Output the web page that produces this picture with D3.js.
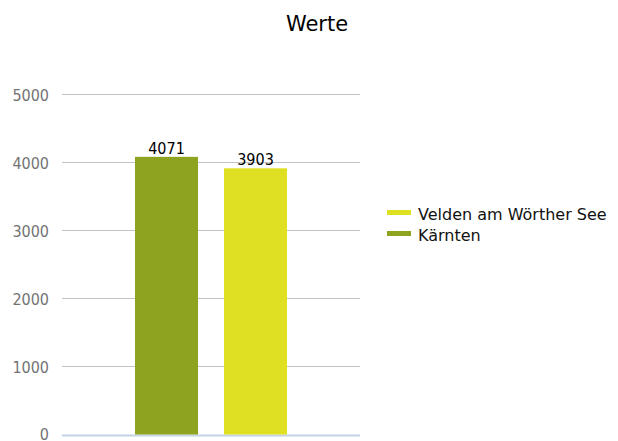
<!DOCTYPE html>
<html>
<head>
<meta charset="utf-8">
<script src="https://cdn.jsdelivr.net/npm/d3@7"></script>
<style>
  body { margin: 0; background: #fff; }
  text { font-family: "DejaVu Sans", sans-serif; }
  text.tick, text.value { font-family: "DejaVu Sans Condensed", "DejaVu Sans", sans-serif; font-stretch: condensed; }
</style>
</head>
<body>
<div id="chart"></div>
<script>
// Data
const series = ["Kärnten", "Velden am Wörther See"];
const values = [4071, 3903];
const colors = ["#8ea320", "#e0e022"];
const legendOrder = ["Velden am Wörther See", "Kärnten"];
const yTicks = [0, 1000, 2000, 3000, 4000, 5000];
const title = "Werte";

const width = 618;
const height = 441;
const plotLeft = 62;
const plotRight = 360;
const plotBottom = 434.5;
const plotTop = 93.5;

const svg = d3.select("#chart")
  .append("svg")
  .attr("width", width)
  .attr("height", height);

const y = d3.scaleLinear()
  .domain([0, 5000])
  .range([plotBottom, plotTop]);

const x = d3.scaleBand()
  .domain(series)
  .range([plotLeft, plotRight])
  .paddingInner(0.292)
  .paddingOuter(0.82);

const color = d3.scaleOrdinal().domain(series).range(colors);

// title
svg.append("text")
  .attr("x", 317)
  .attr("y", 31)
  .attr("text-anchor", "middle")
  .attr("font-size", "21px")
  .attr("fill", "#000")
  .text(title);

// gridlines
svg.selectAll("line.grid")
  .data(yTicks)
  .enter()
  .append("line")
  .attr("class", "grid")
  .attr("x1", plotLeft)
  .attr("x2", plotRight)
  .attr("y1", d => Math.round(y(d)) + 0.5)
  .attr("y2", d => Math.round(y(d)) + 0.5)
  .attr("stroke", d => d === 0 ? "#c3d3e6" : "#c4c4c4")
  .attr("stroke-width", d => d === 0 ? 2 : 1);

// y tick labels (the "0" sits at the bottom edge, as in the original)
svg.selectAll("text.tick")
  .data(yTicks)
  .enter()
  .append("text")
  .attr("class", "tick")
  .attr("x", 49)
  .attr("y", d => Math.min(y(d) + 7, height - 1))
  .attr("text-anchor", "end")
  .attr("font-size", "16px")
  .attr("fill", "#737373")
  .text(d => d);

// bars
svg.selectAll("rect.bar")
  .data(series)
  .enter()
  .append("rect")
  .attr("class", "bar")
  .attr("x", d => x(d))
  .attr("y", (d, i) => y(values[i]))
  .attr("width", x.bandwidth())
  .attr("height", (d, i) => y(0) - y(values[i]))
  .attr("fill", d => color(d));

// value labels
svg.selectAll("text.value")
  .data(series)
  .enter()
  .append("text")
  .attr("class", "value")
  .attr("x", d => x(d) + x.bandwidth() / 2)
  .attr("y", (d, i) => y(values[i]) - 3)
  .attr("text-anchor", "middle")
  .attr("font-size", "16px")
  .attr("fill", "#000")
  .text((d, i) => values[i]);

// legend
const legend = svg.selectAll("g.legend")
  .data(legendOrder)
  .enter()
  .append("g")
  .attr("class", "legend")
  .attr("transform", (d, i) => `translate(387, ${210 + i * 21})`);

legend.append("rect")
  .attr("width", 24)
  .attr("height", 5)
  .attr("fill", d => color(d));

legend.append("text")
  .attr("x", 31)
  .attr("y", 9.5)
  .attr("font-size", "16px")
  .attr("fill", "#111")
  .text(d => d);
</script>
</body>
</html>
